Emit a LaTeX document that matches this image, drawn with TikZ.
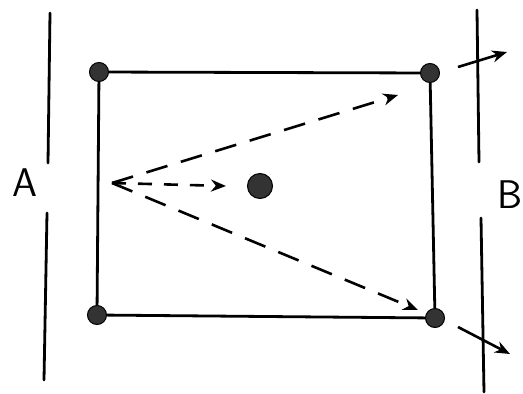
\documentclass[tikz,border=0pt]{standalone}
\usetikzlibrary{arrows.meta}
\begin{document}
\begin{tikzpicture}[x=1pt,y=-1pt,
  wall/.style={line width=2.8pt,line cap=round},
  edge/.style={line width=2.8pt},
  corner/.style={circle,fill=black!80,draw=black,line width=1pt,minimum size=19pt,inner sep=0pt},
  ray/.style={line width=2.6pt,dash pattern=on 22pt off 14pt,-{Stealth[length=15pt,width=12pt]}},
  outray/.style={line width=2.6pt,-{Stealth[length=15pt,width=12pt]}},
  lbl/.style={font=\sffamily\fontsize{40}{40}\selectfont,inner sep=0pt}]
\useasboundingbox (0,0) rectangle (523,394);
% walls
\coordinate (lw1) at (50,13); \coordinate (lw2) at (48,163);
\coordinate (lw3) at (47,213); \coordinate (lw4) at (44,380);
\coordinate (rw1) at (477,10); \coordinate (rw2) at (479,162);
\coordinate (rw3) at (481,218); \coordinate (rw4) at (484,392);
\draw[wall] (lw1) -- (lw2);
\draw[wall] (lw3) -- (lw4);
\draw[wall] (rw1) -- (rw2);
\draw[wall] (rw3) -- (rw4);
% labels
\node[lbl] (A) at (25,183) {A};
\node[lbl] (B) at (510,195) {B};
% rectangle corners
\node[corner] (tl) at (99,72) {};
\node[corner] (bl) at (97,315) {};
\node[corner] (tr) at (430,73) {};
\node[corner] (br) at (435,318) {};
\draw[edge] (tl) -- (tr) -- (br) -- (bl) -- (tl);
% centre
\node[corner,minimum size=25pt] (c) at (260,186) {};
% source and rays
\coordinate (s) at (112,183);
\coordinate (t1) at (398,95);
\coordinate (t2) at (226,186);
\coordinate (t3) at (418,310);
\draw[ray] (s) -- (t1);
\draw[ray,dash pattern=on 14pt off 12pt] (s) -- (t2);
\draw[ray] (s) -- (t3);
% outgoing arrows
\coordinate (o1a) at (458,67); \coordinate (o1b) at (507,52);
\coordinate (o2a) at (458,327); \coordinate (o2b) at (510,354);
\draw[outray] (o1a) -- (o1b);
\draw[outray] (o2a) -- (o2b);
\end{tikzpicture}
\end{document}
